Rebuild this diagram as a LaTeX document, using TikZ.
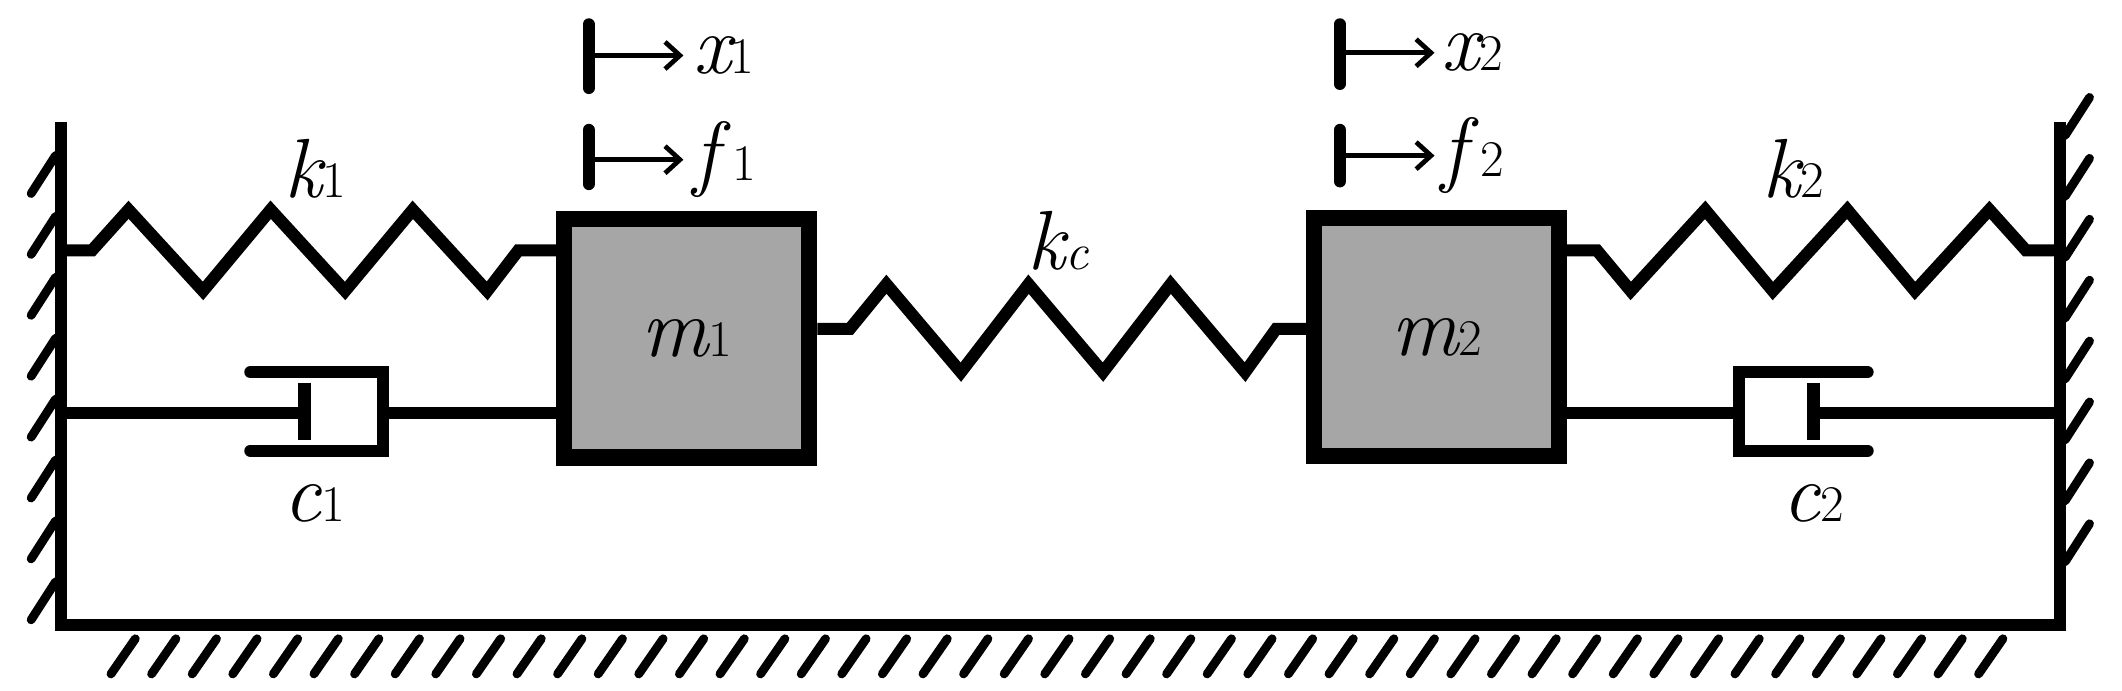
\documentclass[tikz,border=0pt]{standalone}
\usetikzlibrary{arrows.meta}
\begin{document}
\begin{tikzpicture}[x=1pt,y=-1pt,
  ln/.style={line width=9pt,line join=miter},
  hat/.style={line width=6.5pt,line cap=round},
  mass/.style={draw,line width=12pt,fill=black!35,minimum width=181pt,minimum height=176pt,inner sep=0pt},
  lab/.style={font=\fontsize{62}{64}\selectfont\itshape,inner sep=0pt},
  bar/.style={line width=9pt,line cap=round},
  arr/.style={line width=3.5pt,->,>={Straight Barb[length=11pt,width=20pt]}}]
\useasboundingbox (0,0) rectangle (1568,510);
\newcommand{\sub}[1]{{\upshape\fontsize{38}{40}\selectfont #1}}
% frame
\coordinate (wl) at (45,90); \coordinate (wr) at (1522,90);
\coordinate (fl) at (45,462); \coordinate (fr) at (1522,462);
\draw[ln] (wl) -- (fl) -- (fr) -- (wr);
\foreach \y in {115,160,205,250,295,340,385,430} \draw[hat] (41,\y) -- (23,\y+28);
\foreach \y in {100,145,190,235,280,325,370,415} \draw[hat] (1526,\y) -- (1544,\y-28);
\foreach \x in {100,130,...,1500} \draw[hat] (\x,472) -- (\x-18,498);
% masses
\node[mass] (m1) at (507.5,250) {};
\node[mass] (m2) at (1061.5,249) {};
\node[lab] at (m1) {m\sub{1}};
\node[lab] at (m2) {m\sub{2}};
% springs
\draw[ln] (45,185) -- (68,185) -- (95,155) -- (150,215) -- (200,155) -- (255,215) -- (305,155) -- (360,215) -- (383,185) -- (m1.west |- 0,185);
\draw[ln] (m1.east |- 0,243) -- (628,243) -- (655,210) -- (710,275) -- (760,210) -- (815,275) -- (865,210) -- (920,275) -- (943,243) -- (m2.west |- 0,243);
\draw[ln] (m2.east |- 0,185) -- (1180,185) -- (1205,215) -- (1260,155) -- (1310,215) -- (1365,155) -- (1415,215) -- (1470,155) -- (1497,185) -- (1522,185);
% dampers
\draw[ln] (45,305) -- (225,305);
\draw[ln] (225,283) -- (225,325);
\draw[ln,line cap=round] (185,275) -- (283,275) -- (283,333) -- (185,333);
\draw[ln] (283,305) -- (m1.west |- 0,305);
\draw[ln] (m2.east |- 0,305) -- (1285,305);
\draw[ln,line cap=round] (1380,275) -- (1285,275) -- (1285,333) -- (1380,333);
\draw[ln] (1340,283) -- (1340,325);
\draw[ln] (1340,305) -- (1522,305);
% labels
\node[lab] at (233,125) {k\sub{1}};
\node[lab] at (782,178) {k\sub{\itshape c}};
\node[lab] at (1325,125) {k\sub{2}};
\node[lab] at (232,372) {c\sub{1}};
\node[lab] at (1340,372) {c\sub{2}};
% displacement / force arrows
\draw[bar] (435,18) -- (435,65); \draw[arr] (435,41) -- (505,41);
\node[lab,anchor=west] at (512,41) {x\sub{1}};
\draw[bar] (435,96) -- (435,136); \draw[arr] (435,118) -- (505,118);
\node[lab,anchor=west] at (512,118) {f\,\sub{1}};
\draw[bar] (990,18) -- (990,62); \draw[arr] (990,39) -- (1060,39);
\node[lab,anchor=west] at (1065,39) {x\sub{2}};
\draw[bar] (990,96) -- (990,134); \draw[arr] (990,115) -- (1060,115);
\node[lab,anchor=west] at (1065,115) {f\,\sub{2}};
\end{tikzpicture}
\end{document}
